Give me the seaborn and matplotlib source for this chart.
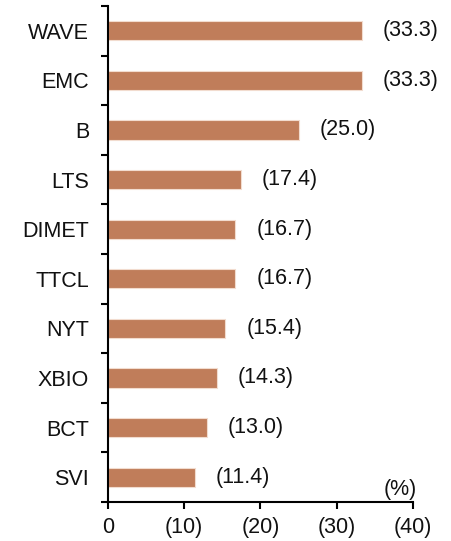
import matplotlib
matplotlib.use("Agg")
import matplotlib.pyplot as plt
import seaborn as sns
import pandas as pd
import numpy as np

categories = ["WAVE", "EMC", "B", "LTS", "DIMET", "TTCL", "NYT", "XBIO", "BCT", "SVI"]
values = [33.3, 33.3, 25.0, 17.4, 16.7, 16.7, 15.4, 14.3, 13.0, 11.4]
value_labels = ["(33.3)", "(33.3)", "(25.0)", "(17.4)", "(16.7)", "(16.7)", "(15.4)", "(14.3)", "(13.0)", "(11.4)"]
x_ticks = [0, 10, 20, 30, 40]
x_tick_labels = ["0", "(10)", "(20)", "(30)", "(40)"]

sns.set_style("white")
plt.rcParams["font.family"] = ["Liberation Sans", "DejaVu Sans"]

FS = 15.5
df = pd.DataFrame({"cat": categories, "val": values})

fig = plt.figure(figsize=(4.52, 5.41), dpi=100)
ax = fig.add_axes([108/452, 39/541, (413-108)/452, (502-6)/541])

sns.barplot(data=df, x="val", y="cat", orient="h", color="#C07D5A", width=0.39,
            edgecolor="#F2DCCF", linewidth=0.8, saturation=1, ax=ax)

ax.set_xlim(0, 40)
ax.set_ylim(len(categories) - 0.5, -0.5)
ax.set_xlabel("")
ax.set_ylabel("")

for i, (v, lab) in enumerate(zip(values, value_labels)):
    ax.annotate(lab, xy=(v, i), xytext=(21, 0), textcoords="offset pixels",
                va="center", ha="left", fontsize=FS, color="#111111")

ax.set_xticks(x_ticks)
ax.set_xticklabels(x_tick_labels, fontsize=FS)
ax.tick_params(axis="x", which="major", bottom=True, direction="out", length=5, width=1.5,
               pad=6, colors="black", labelcolor="#111111")
ax.set_yticks(range(len(categories)))
ax.set_yticklabels(categories, fontsize=FS)
ax.tick_params(axis="y", which="major", left=True, length=0, pad=13.5, labelcolor="#111111")
ax.set_yticks(np.arange(-0.5, len(categories) + 0.5, 1), minor=True)
ax.tick_params(axis="y", which="minor", left=True, direction="out", length=5, width=1.5, colors="black")

sns.despine(ax=ax)
for s in ["left", "bottom"]:
    ax.spines[s].set_linewidth(1.5)
    ax.spines[s].set_color("black")

ax.text(400/452, (541-490)/541, "(%)", transform=fig.transFigure, fontsize=FS,
        ha="center", va="center", color="#111111")

fig.savefig("out.png", dpi=100)
